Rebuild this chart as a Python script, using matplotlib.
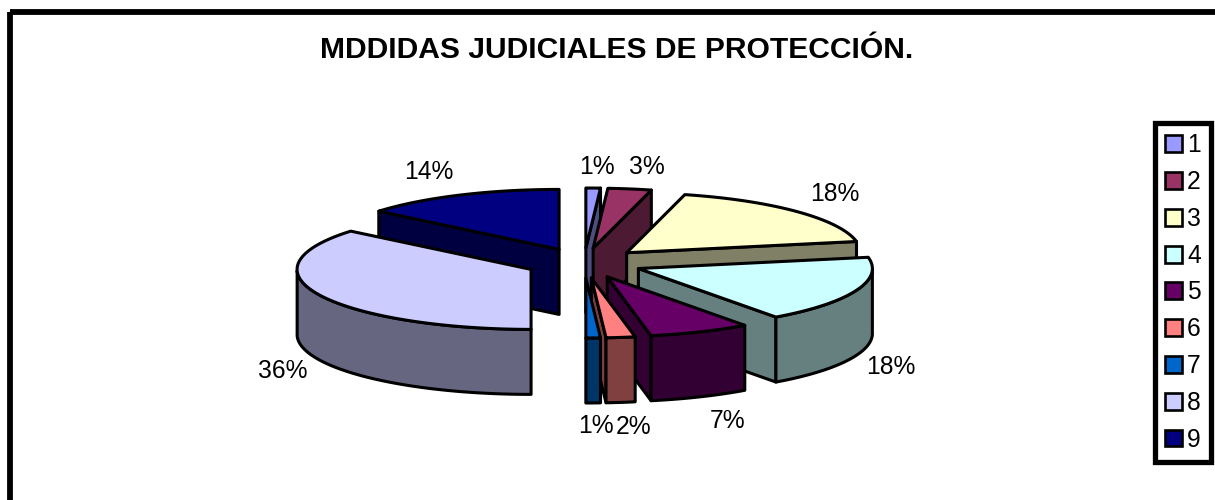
import numpy as np
import matplotlib
matplotlib.use("Agg")
import matplotlib.pyplot as plt
from matplotlib.patches import Patch, Polygon, Rectangle

plt.rcParams["font.family"] = ["Liberation Sans", "DejaVu Sans"]

# Data
categories = ["1", "2", "3", "4", "5", "6", "7", "8", "9"]
values = [1, 3, 18, 18, 7, 2, 1, 36, 14]
colors = ["#9999FF", "#993366", "#FFFFCC", "#CCFFFF", "#660066",
          "#FF8080", "#0066CC", "#CCCCFF", "#000080"]
title = "MDDIDAS JUDICIALES DE PROTECCIÓN."

# Layout of the pie, in pixels
cx, cy = 584, 263
rx, ry = 234, 60
depth = 65
explode = 0.25
line = 2.2
draw_order = [8, 7, 0, 1, 2, 3, 4, 5, 6]
label_pos = [(597, 167), (647, 167), (835, 194), (891, 367), (728, 421),
             (634, 427), (596, 426), (283, 371), (429, 172)]

fig = plt.figure(figsize=(12.15, 5), dpi=100)
ax = fig.add_axes([0, 0, 1, 1])
ax.set_xlim(0, 1215)
ax.set_ylim(500, 0)
ax.axis("off")

# Chart frame runs off the right and bottom of the picture
ax.add_patch(Rectangle((10, 11.5), 1300, 600, fill=False, ec="black", lw=4.2))


def darker(color):
    return tuple(c * 0.5 for c in matplotlib.colors.to_rgb(color))


def face(points, color, z):
    ax.add_patch(Polygon(points, closed=True, fc=color, ec="black", lw=line,
                         joinstyle="round", zorder=z))


# Slice angles, clockwise from twelve o'clock
edges = np.radians(np.cumsum([0] + values) * 3.6)

for z, i in enumerate(draw_order):
    a, b = edges[i], edges[i + 1]
    mid = (a + b) / 2
    ox = cx + explode * rx * np.sin(mid)
    oy = cy - explode * ry * np.cos(mid)
    t = np.linspace(a, b, 80)
    xs = ox + rx * np.sin(t)
    ys = oy - ry * np.cos(t)
    side = darker(colors[i])
    base = 10 + z * 5

    # Cut faces that look towards the viewer
    if np.sin(a) < -1e-6:
        face([(ox, oy), (xs[0], ys[0]), (xs[0], ys[0] + depth), (ox, oy + depth)], side, base)
    if np.sin(b) > 1e-6:
        face([(ox, oy), (xs[-1], ys[-1]), (xs[-1], ys[-1] + depth), (ox, oy + depth)], side, base)

    # Outer wall, only the front half of the rim shows
    front = np.cos(t) <= 0
    if front.sum() > 1:
        wall = list(zip(xs[front], ys[front])) + list(zip(xs[front][::-1], ys[front][::-1] + depth))
        face(wall, side, base + 1)

    # Top
    face([(ox, oy)] + list(zip(xs, ys)), colors[i], base + 2)

    lx, ly = label_pos[i]
    ax.text(lx, ly, f"{values[i]}%", fontsize=17.7, ha="center", va="center", color="black", zorder=100)

ax.text(617, 50, title, fontsize=21.6, fontweight="bold", ha="center", va="center")

# Legend
handles = [Patch(fc=c, ec="black", lw=1.9) for c in colors]
leg = ax.legend(handles, categories, loc="upper left", bbox_to_anchor=(1155, 123),
                bbox_transform=ax.transData, fontsize=17.7, frameon=True, fancybox=False,
                edgecolor="black", framealpha=1, borderaxespad=0, borderpad=0.42,
                labelspacing=0.52, handlelength=0.68, handleheight=0.68, handletextpad=0.2)
leg.get_frame().set_linewidth(3.8)

fig.savefig("out.png", dpi=100)
